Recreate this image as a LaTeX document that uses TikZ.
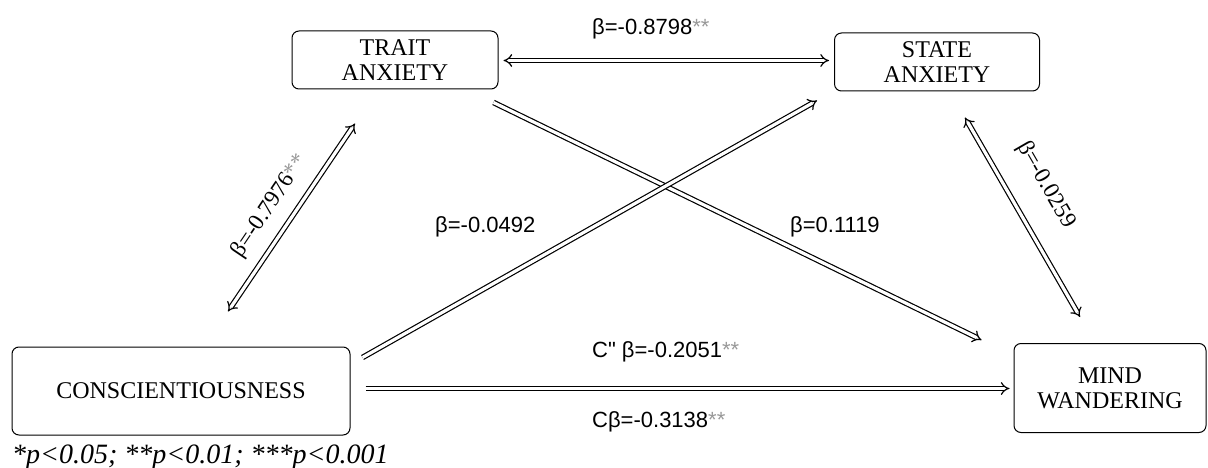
\documentclass[tikz,border=0pt]{standalone}
\usepackage{fontspec}
\setmainfont{Liberation Serif}
\newfontfamily\lblfont{Liberation Sans}
\usetikzlibrary{arrows.meta, positioning, calc}
\newcommand{\sig}{\textcolor{black!40}{**}}
\newcommand{\boxfont}{\fontsize{24}{25}\selectfont}
\newcommand{\coeffont}{\lblfont\fontsize{22}{24}\selectfont}
\newcommand{\rotfont}{\fontsize{23}{24}\selectfont}

\begin{document}
\begin{tikzpicture}[x=1pt, y=-1pt,
  varbox/.style={draw, rounded corners=7pt, line width=1pt, align=center,
    font=\boxfont, inner sep=0pt},
  dbl/.style={double, double distance=3.2pt, line width=1.2pt},
  coef/.style={anchor=base west, font=\coeffont, inner sep=0pt}]
\useasboundingbox (0,0) rectangle (1208,468);
% variables
\node[varbox, minimum width=206, minimum height=58] (trait) at (395,60) {TRAIT\\ANXIETY};
\node[varbox, minimum width=205, minimum height=58] (state) at (937,62) {STATE\\ANXIETY};
\node[varbox, minimum width=338, minimum height=88] (consc) at (181,391) {CONSCIENTIOUSNESS};
\node[varbox, minimum width=192, minimum height=89] (mind) at (1110,388) {MIND\\WANDERING};
% paths
\draw[dbl, {Implies}-{Implies}] ($(trait.east)+(5,0.5)$) -- ($(state.west)+(-5,-1.5)$);
\draw[dbl, {Implies}-{Implies}] ($(consc.north)+(47,-35)$) -- ($(trait.south)+(-40,34)$);
\draw[dbl, {Implies}-{Implies}] ($(state.south)+(28,26)$) -- ($(mind.north)+(-30,-26)$);
\draw[dbl, -{Implies}] ($(trait.south east)+(-5,13)$) -- ($(mind.north west)+(-32,-3)$);
\draw[dbl, -{Implies}] ($(consc.north east)+(12,11)$) -- ($(state.south west)+(-17,9)$);
\draw[dbl, -{Implies}] ($(consc.east)+(15,-2.5)$) -- ($(mind.west)+(-4,0.5)$);
% coefficients
\node[coef] (b1) at (592,35) {β=-0.8798\sig};
\node[coef] (b2) at (435,232) {β=-0.0492};
\node[coef] (b3) at (790,232) {β=0.1119};
\node[coef] (b4) at (592,357) {C\textquotedbl{} β=-0.2051\sig};
\node[coef] (b5) at (592,427) {Cβ=-0.3138\sig};
\node[font=\rotfont, rotate=56, inner sep=0pt] (b6) at (270,206) {β=-0.7976\sig};
\node[font=\rotfont, rotate=-60, inner sep=0pt] (b7) at (1046,185) {β=-0.0259};
% note
\node[anchor=base west, inner sep=0pt, font=\fontsize{28}{30}\selectfont\itshape] (note)
  at (12,463) {*p<0.05; **p<0.01; ***p<0.001};
\end{tikzpicture}
\end{document}
